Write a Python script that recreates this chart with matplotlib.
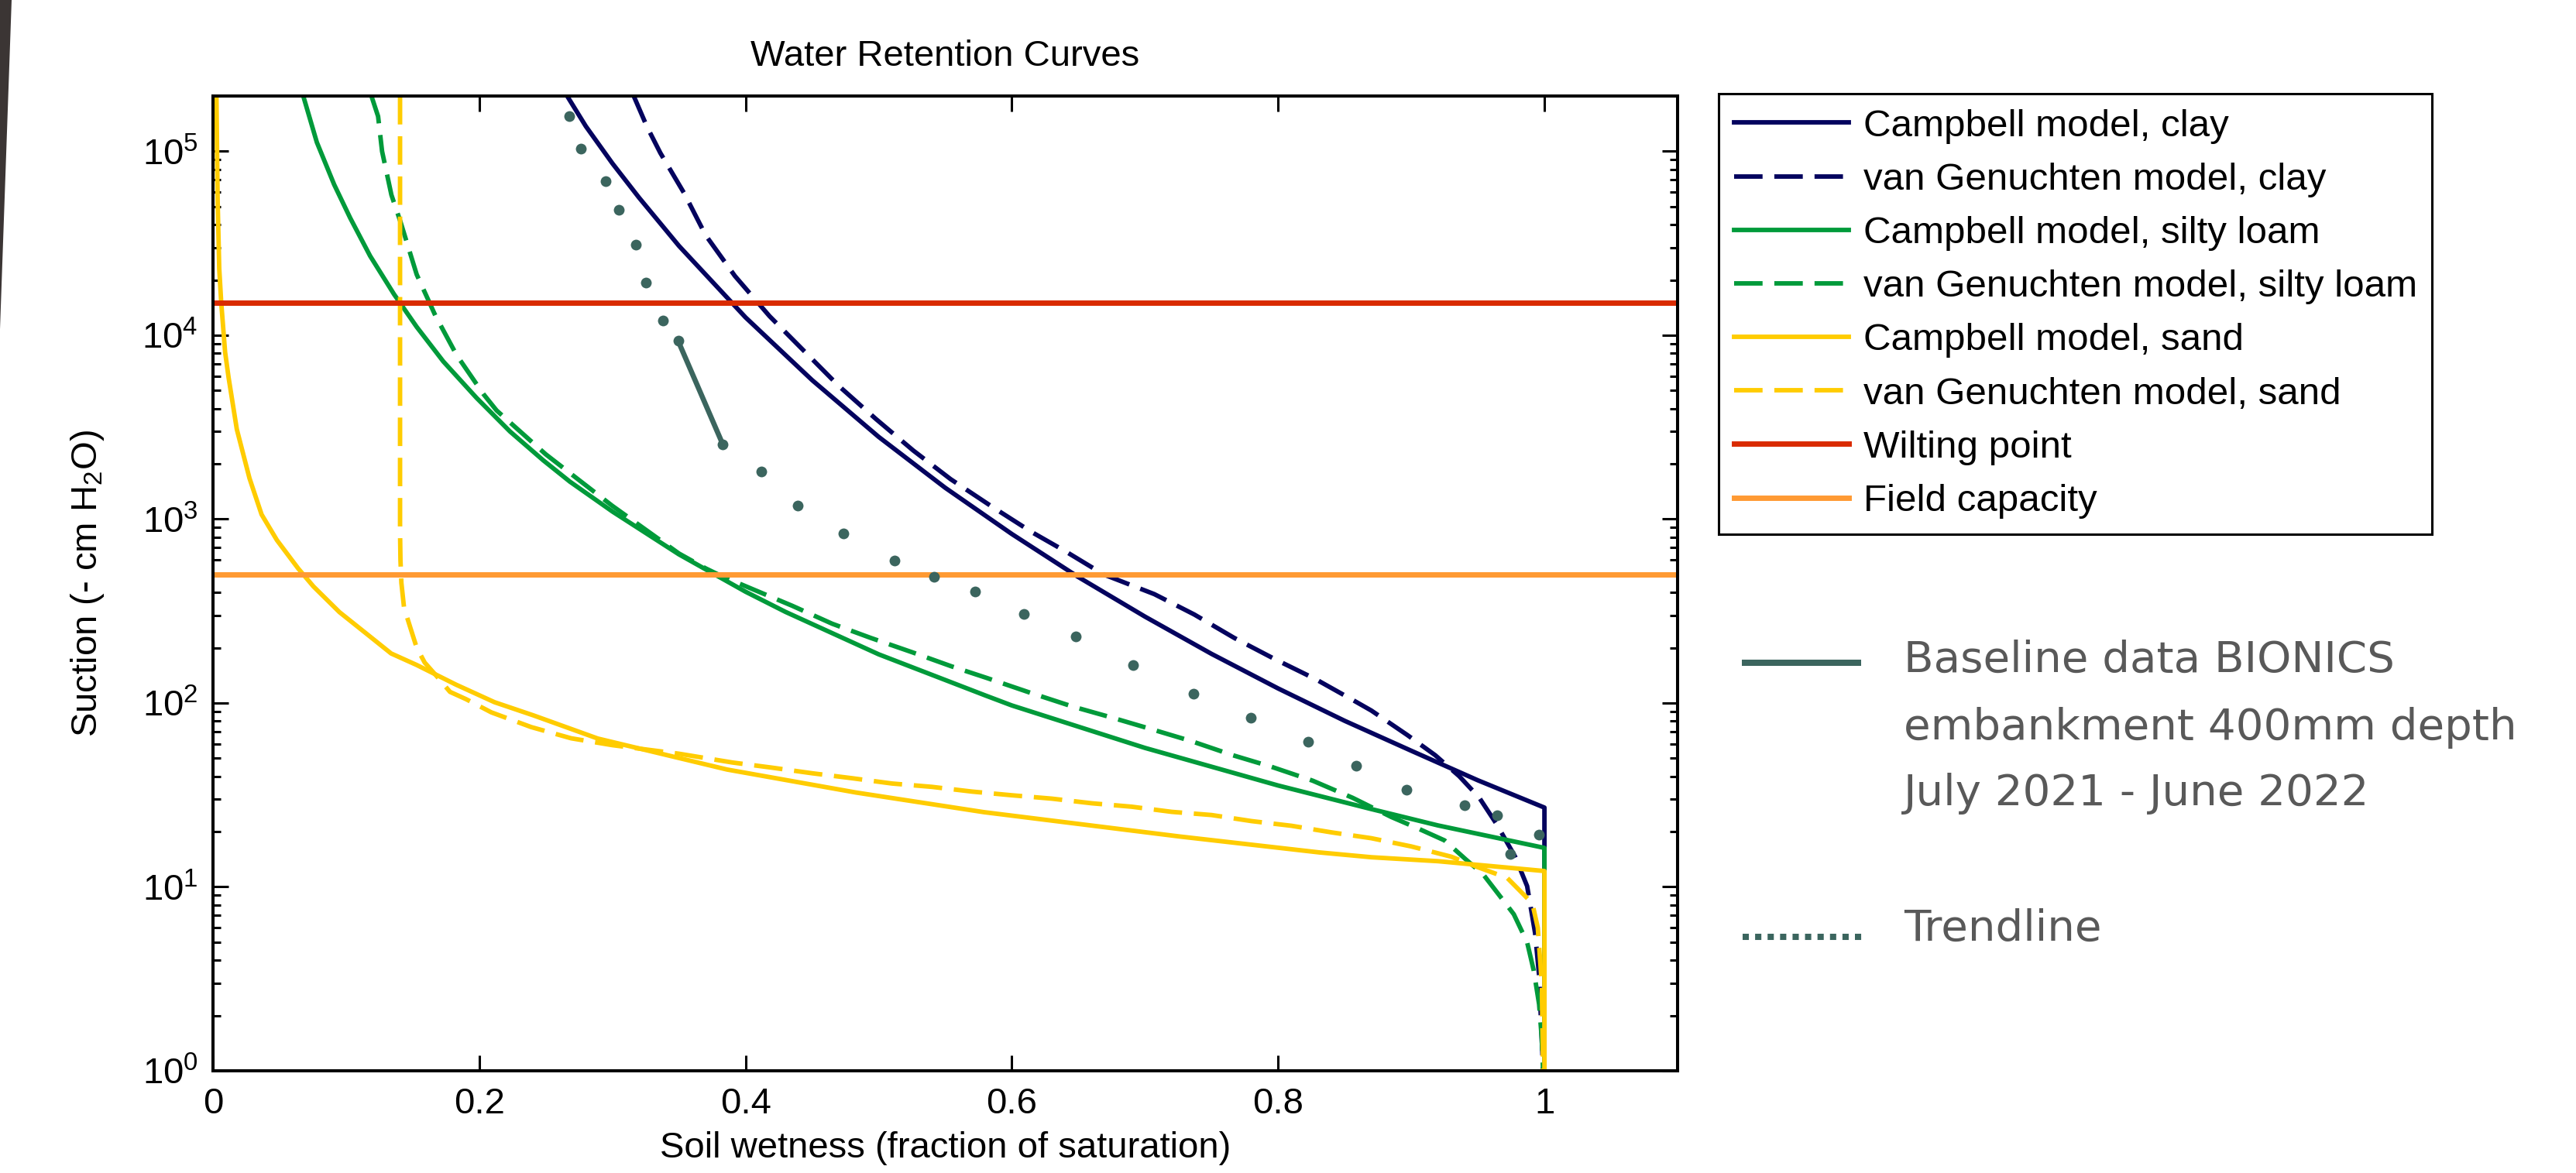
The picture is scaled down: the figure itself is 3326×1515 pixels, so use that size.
import matplotlib
matplotlib.use('Agg')
import matplotlib.pyplot as plt
from matplotlib.lines import Line2D
from matplotlib.patches import Polygon

plt.rcParams['font.family'] = ['Liberation Sans', 'DejaVu Sans']
plt.rcParams['mathtext.fontset'] = 'custom'
plt.rcParams['mathtext.rm'] = 'Liberation Sans'
plt.rcParams['mathtext.it'] = 'Liberation Sans:italic'
plt.rcParams['mathtext.bf'] = 'Liberation Sans:bold'

# ---- values (S = fraction of saturation, psi = suction in cm H2O)
clay_campbell_s = [0.266, 0.28, 0.30, 0.32, 0.35, 0.40, 0.45, 0.50, 0.55, 0.60, 0.65,
                   0.70, 0.75, 0.80, 0.85, 0.90, 0.95, 1.0, 1.0]
clay_campbell_psi = [2.0e5, 1.37e5, 8.6e4, 5.6e4, 3.06e4, 1.25e4, 5.7e3, 2.8e3, 1.48e3, 830, 484,
                     295, 185, 120, 80, 55, 38, 27, 1]

clay_vg_s = [0.316, 0.326, 0.336, 0.354, 0.370, 0.392, 0.418, 0.447, 0.470, 0.498, 0.526,
             0.554, 0.585, 0.615, 0.640, 0.669, 0.707, 0.737, 0.767, 0.797, 0.828, 0.858,
             0.870, 0.897, 0.918, 0.936, 0.951, 0.964, 0.978, 0.987, 0.993, 0.996, 0.999]
clay_vg_psi = [2.0e5, 1.36e5, 9.8e4, 5.9e4, 3.5e4, 2.1e4, 1.27e4, 7.8e3, 5.3e3, 3.5e3, 2.36e3,
               1.65e3, 1.17e3, 850, 670, 500, 391, 303, 226, 174, 135, 102,
               91, 67, 52, 40, 30.6, 22, 14.6, 10.1, 5.6, 3.3, 1.0]

silt_campbell_s = [0.0678, 0.078, 0.091, 0.103, 0.118, 0.136, 0.153, 0.173, 0.198, 0.223, 0.248,
                   0.268, 0.30, 0.35, 0.40, 0.43, 0.50, 0.58, 0.60, 0.70, 0.80, 0.87, 0.92, 1.0, 1.0]
silt_campbell_psi = [2.0e5, 1.12e5, 6.6e4, 4.35e4, 2.7e4, 1.67e4, 1.11e4, 7.2e3, 4.56e3, 3.0e3, 2.09e3,
                     1.6e3, 1.1e3, 643, 403, 313, 184, 110, 97, 57, 35.6, 26.5, 21.6, 16.3, 1]

silt_vg_s = [0.119, 0.124, 0.127, 0.134, 0.141, 0.153, 0.167, 0.183, 0.203, 0.213, 0.25, 0.30,
             0.35, 0.37, 0.382, 0.405, 0.435, 0.465, 0.494, 0.525, 0.555, 0.581, 0.615, 0.645,
             0.676, 0.705, 0.735, 0.766, 0.795, 0.826, 0.856, 0.885, 0.905, 0.925, 0.941, 0.954,
             0.971, 0.977, 0.987, 0.992, 0.996, 0.998, 0.999]
silt_vg_psi = [2.0e5, 1.55e5, 1.0e5, 5.8e4, 4.1e4, 2.14e4, 1.28e4, 7.8e3, 4.8e3, 3.9e3, 2.25e3, 1.18e3,
               650, 540, 490, 417, 338, 270, 226, 189, 158, 137, 113, 96,
               83, 72, 62, 52, 45, 37.8, 30.5, 24, 20.8, 17.9, 14.1, 11.7,
               8.1, 7.1, 5.0, 3.5, 2.3, 1.5, 1.0]

sand_campbell_s = [0.0026, 0.0035, 0.0047, 0.0062, 0.0091, 0.0117, 0.0179, 0.0274, 0.0365, 0.048,
                   0.064, 0.0755, 0.095, 0.1144, 0.1338, 0.153, 0.1824, 0.2115, 0.2406, 0.289,
                   0.386, 0.483, 0.579, 0.726, 0.831, 0.870, 0.920, 1.0, 1.0]
sand_campbell_psi = [2.0e5, 5.4e4, 2.3e4, 1.5e4, 8.1e3, 5.9e3, 3.08e3, 1.67e3, 1.06e3, 769,
                     539, 430, 312, 241, 186, 161, 126, 101, 85.7, 64.1,
                     43.5, 32.6, 25.5, 18.8, 15.4, 14.5, 13.8, 12.2, 1]

sand_vg_s = [0.1405, 0.1405, 0.1408, 0.1415, 0.1435, 0.148, 0.153, 0.159, 0.168, 0.178, 0.19,
             0.209, 0.239, 0.269, 0.30, 0.35, 0.39, 0.42, 0.45, 0.48, 0.51, 0.54, 0.57, 0.60,
             0.63, 0.66, 0.69, 0.72, 0.75, 0.78, 0.81, 0.84, 0.87, 0.90, 0.93, 0.95, 0.972,
             0.985, 0.991, 0.995, 0.998, 0.999]
sand_vg_psi = [2.0e5, 850, 600, 450, 330, 260, 200, 166, 140, 115, 105,
               89, 74, 64.3, 59, 53, 47.5, 44.5, 41.5, 39, 36.5, 35, 33, 31.5,
               30.2, 28.5, 27.3, 25.6, 24.6, 22.8, 21.5, 19.8, 18.4, 16.6, 14.6, 12.8, 11.2,
               9.0, 8.1, 6.0, 3.0, 1.0]

wilting_point = 1.5e4
field_capacity = 500

baseline_s = [0.3494, 0.3829]
baseline_psi = [9.3e3, 2.55e3]

trend_s = [0.2678, 0.2764, 0.2949, 0.3049, 0.3177, 0.3249, 0.3377, 0.3494, 0.3829, 0.4120,
           0.4391, 0.4733, 0.5119, 0.5418, 0.5725, 0.609, 0.6482, 0.6910, 0.7366, 0.7795,
           0.8223, 0.8587, 0.8965, 0.9401, 0.9645, 0.9956, 0.9746]
trend_psi = [1.56e5, 1.03e5, 6.9e4, 4.8e4, 3.1e4, 1.94e4, 1.2e4, 9.3e3, 2.55e3, 1.81e3,
             1.19e3, 836, 598, 486, 402, 304, 230, 161, 112, 83.5,
             61.7, 45.6, 33.6, 27.8, 24.4, 19.3, 15.1]

x_ticks = [0, 0.2, 0.4, 0.6, 0.8, 1.0]
x_tick_labels = ['0', '0.2', '0.4', '0.6', '0.8', '1']
y_ticks = [1, 10, 100, 1e3, 1e4, 1e5]

legend_labels = ['Campbell model, clay', 'van Genuchten model, clay',
                 'Campbell model, silty loam', 'van Genuchten model, silty loam',
                 'Campbell model, sand', 'van Genuchten model, sand',
                 'Wilting point', 'Field capacity']
note_lines = ['Baseline data BIONICS', 'embankment 400mm depth', 'July 2021 - June 2022']

NAVY = '#04035e'
GREEN = '#009a3a'
YELLOW = '#ffcc00'
RED = '#d92b00'
ORANGE = '#ff9a33'
TEAL = '#3b655e'
GREY = '#595959'

W, H = 3326, 1515
fig = plt.figure(figsize=(W / 100, H / 100), dpi=100)
ax = fig.add_axes([275 / W, 1 - 1383 / H, (2166 - 275) / W, (1383 - 124) / H])

lw = 4.2
dash = (0, (6.3, 2.6))
ax.plot(clay_campbell_s, clay_campbell_psi, color=NAVY, lw=lw, label=legend_labels[0])
ax.plot(clay_vg_s, clay_vg_psi, color=NAVY, lw=lw, ls=dash, label=legend_labels[1])
ax.plot(silt_campbell_s, silt_campbell_psi, color=GREEN, lw=lw, label=legend_labels[2])
ax.plot(silt_vg_s, silt_vg_psi, color=GREEN, lw=lw, ls=dash, label=legend_labels[3])
ax.plot(sand_campbell_s, sand_campbell_psi, color=YELLOW, lw=lw, label=legend_labels[4])
ax.plot(sand_vg_s, sand_vg_psi, color=YELLOW, lw=lw, ls=dash, label=legend_labels[5])
ax.axhline(wilting_point, color=RED, lw=5, label=legend_labels[6])
ax.axhline(field_capacity, color=ORANGE, lw=5, label=legend_labels[7])

# overlay: field data and trend
ax.plot(baseline_s, baseline_psi, color=TEAL, lw=4.8, solid_capstyle='round', zorder=5)
ax.plot(trend_s, trend_psi, ls='none', marker='o', ms=10, color=TEAL, mec='none', zorder=5)

ax.set_yscale('log')
ax.set_xlim(0, 1.1)
ax.set_ylim(1, 2e5)
ax.set_xticks(x_ticks)
ax.set_xticklabels(x_tick_labels)
ax.set_yticks(y_ticks)

for sp in ax.spines.values():
    sp.set_linewidth(2.9)
ax.tick_params(axis='both', which='both', direction='in', top=True, right=True,
               labelsize=34, width=2.2)
ax.tick_params(axis='both', which='major', length=14.4)
ax.tick_params(axis='both', which='minor', length=7.2)
ax.tick_params(axis='x', pad=15)
ax.tick_params(axis='y', pad=14)

ax.set_title('Water Retention Curves', fontsize=34, pad=28)
ax.set_xlabel('Soil wetness (fraction of saturation)', fontsize=34)
ax.xaxis.set_label_coords(0.5, -0.062)
ax.set_ylabel('Suction (- cm H$_2$O)', fontsize=34)
ax.yaxis.set_label_coords(-0.073, 0.5)

leg = ax.legend(loc='upper left', bbox_to_anchor=(2219 / W, 1 - 121 / H),
                bbox_transform=fig.transFigure, fontsize=35.5, frameon=True, fancybox=False,
                edgecolor='black', framealpha=1, borderpad=0.4, labelspacing=0.49,
                handlelength=3.0, handletextpad=0.385, borderaxespad=0)
leg.get_frame().set_linewidth(2.2)

# slide decoration at the left edge
fig.add_artist(Polygon([[0, 1], [15 / W, 1], [0, 1 - 425 / H]], closed=True,
                       transform=fig.transFigure, color='#3b3534', lw=0))

# side notes
fig.add_artist(Line2D([2249 / W, 2403 / W], [1 - 856 / H] * 2, transform=fig.transFigure,
                      color=TEAL, lw=5.8, solid_capstyle='butt'))
fig.add_artist(Line2D([2250 / W, 2408 / W], [1 - 1210 / H] * 2, transform=fig.transFigure,
                      color=TEAL, lw=5.8, ls=(0, (1, 1)), dash_capstyle='butt'))
note_font = ['DejaVu Sans']
for txt, yb in zip(note_lines, [868, 955, 1040]):
    fig.text(2458 / W, 1 - yb / H, txt, fontsize=40.5, family=note_font, color=GREY,
             ha='left', va='baseline')
fig.text(2458 / W, 1 - 1215 / H, 'Trendline', fontsize=40.5, family=note_font, color=GREY,
         ha='left', va='baseline')

fig.savefig('out.png', dpi=100)
